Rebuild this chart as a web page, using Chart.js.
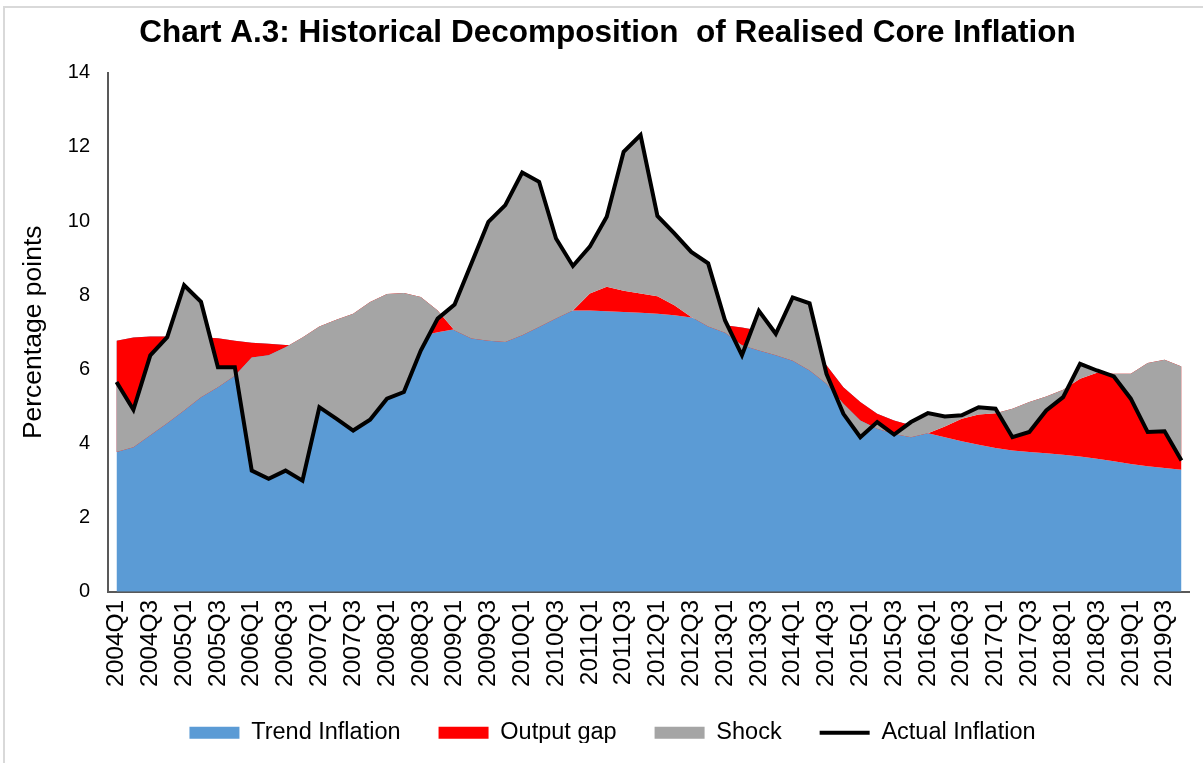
<!DOCTYPE html>
<html>
<head>
<meta charset="utf-8">
<script src="https://cdn.jsdelivr.net/npm/chart.js@4.4.1/dist/chart.umd.min.js"></script>
<style>
  html, body { margin: 0; padding: 0; background: #fff; }
  #frame { position: absolute; left: 3px; top: 6px; width: 1215px; height: 775px; border: 2px solid #d9d9d9; box-sizing: border-box; }
  #wrap { position: absolute; left: 0; top: 0; width: 1203px; height: 763px; }
</style>
</head>
<body>
<div id="frame"></div>
<div id="wrap"><canvas id="chart" width="1203" height="763"></canvas></div>
<script>
// Quarters shown on the x axis
const quarters = [
  '2004Q1','2004Q2','2004Q3','2004Q4','2005Q1','2005Q2','2005Q3','2005Q4',
  '2006Q1','2006Q2','2006Q3','2006Q4','2007Q1','2007Q2','2007Q3','2007Q4',
  '2008Q1','2008Q2','2008Q3','2008Q4','2009Q1','2009Q2','2009Q3','2009Q4',
  '2010Q1','2010Q2','2010Q3','2010Q4','2011Q1','2011Q2','2011Q3','2011Q4',
  '2012Q1','2012Q2','2012Q3','2012Q4','2013Q1','2013Q2','2013Q3','2013Q4',
  '2014Q1','2014Q2','2014Q3','2014Q4','2015Q1','2015Q2','2015Q3','2015Q4',
  '2016Q1','2016Q2','2016Q3','2016Q4','2017Q1','2017Q2','2017Q3','2017Q4',
  '2018Q1','2018Q2','2018Q3','2018Q4','2019Q1','2019Q2','2019Q3','2019Q4'
];

// Trend inflation (percentage points)
const trend = [
  6.77, 6.86, 6.89, 6.89, 6.88, 6.87, 6.84, 6.77, 6.72, 6.69,
  6.66, 6.65, 6.65, 6.66, 6.70, 6.75, 6.80, 6.85, 6.90, 7.00,
  7.08, 7.12, 7.17, 7.22, 7.30, 7.40, 7.50, 7.59, 7.59, 7.57,
  7.55, 7.53, 7.50, 7.46, 7.40, 7.26, 7.19, 7.13, 7.05, 6.92,
  6.75, 6.50, 6.11, 5.52, 5.12, 4.80, 4.62, 4.49, 4.28, 4.17,
  4.06, 3.97, 3.88, 3.81, 3.77, 3.74, 3.70, 3.65, 3.59, 3.52,
  3.45, 3.39, 3.34, 3.29
];

// Output gap contribution
const outputGap = [
  -3.00, -2.96, -2.67, -2.34, -1.99, -1.62, -1.32, -0.94, -0.40, -0.31,
  -0.06, 0.21, 0.51, 0.68, 0.80, 1.07, 1.23, 1.21, 1.05, 0.59,
  -0.03, -0.29, -0.40, -0.48, -0.38, -0.26, -0.13, 0.00, 0.46, 0.66,
  0.57, 0.52, 0.47, 0.27, 0.01, -0.10, -0.20, -0.48, -0.54, -0.54,
  -0.52, -0.53, -0.50, -0.45, -0.50, -0.40, -0.36, -0.32, 0.00, 0.29,
  0.61, 0.81, 0.94, 1.13, 1.35, 1.53, 1.75, 2.10, 2.32, 2.36,
  2.43, 2.78, 2.92, 2.79
];

// Actual core inflation; the shock is what is left after trend and output gap
const actual = [
  5.66, 4.91, 6.38, 6.87, 8.27, 7.82, 6.06, 6.06, 3.27, 3.05,
  3.27, 3.00, 4.98, 4.67, 4.35, 4.64, 5.21, 5.39, 6.51, 7.37,
  7.75, 8.86, 9.98, 10.43, 11.31, 11.06, 9.53, 8.79, 9.31, 10.12,
  11.87, 12.32, 10.14, 9.67, 9.17, 8.86, 7.32, 6.38, 7.58, 6.96,
  7.94, 7.78, 5.88, 4.80, 4.17, 4.58, 4.24, 4.58, 4.82, 4.73,
  4.76, 4.98, 4.94, 4.17, 4.31, 4.89, 5.25, 6.15, 5.97, 5.81,
  5.21, 4.31, 4.33, 3.54
];

const FONT = "'Liberation Sans', Arial, sans-serif";

// Stacked boundaries, the way Excel stacks an area chart with negative values
const gapTop = trend.map((t, i) => +(t + outputGap[i]).toFixed(2));
const shockTop = actual.slice();

const datasets = [
  {
    label: 'Trend Inflation',
    data: trend,
    fill: 'origin',
    backgroundColor: '#5B9BD5',
    borderColor: 'transparent',
    borderWidth: 0,
    order: 3,
    legendLine: false
  },
  {
    label: 'Output gap',
    data: gapTop,
    fill: '-1',
    backgroundColor: '#FF0000',
    borderColor: 'transparent',
    borderWidth: 0,
    order: 2,
    legendLine: false
  },
  {
    label: 'Shock',
    data: shockTop,
    fill: '-1',
    backgroundColor: '#A5A5A5',
    borderColor: 'transparent',
    borderWidth: 0,
    order: 1,
    legendLine: false
  },
  {
    label: 'Actual Inflation',
    data: actual,
    fill: false,
    backgroundColor: '#000000',
    borderColor: '#000000',
    borderWidth: 4,
    order: 0,
    legendLine: true
  }
];

// pull the legend row a bit closer to the axis labels
const legendLift = {
  id: 'legendLift',
  afterLayout(chart) {
    chart.legend.top -= 12;
    chart.legend.bottom -= 12;
    chart.legend.left += 5;
    chart.legend.right += 5;
  }
};

new Chart(document.getElementById('chart'), {
  type: 'line',
  data: { labels: quarters, datasets: datasets },
  plugins: [legendLift],
  options: {
    responsive: false,
    animation: false,
    events: [],
    elements: {
      point: { radius: 0, hoverRadius: 0 },
      line: { tension: 0, borderJoinStyle: 'miter' }
    },
    layout: { padding: { left: 18, right: 6, top: 0, bottom: 8 } },
    scales: {
      x: {
        offset: true,
        grid: { display: false, drawTicks: false },
        border: { display: true, color: '#595959', width: 2 },
        ticks: {
          autoSkip: false,
          minRotation: 90,
          maxRotation: 90,
          padding: 8,
          color: '#000',
          font: { family: FONT, size: 24.5, lineHeight: 0.55 },
          callback: function(value, index) {
            return index % 2 === 0 ? quarters[index] : '';
          }
        }
      },
      y: {
        min: 0,
        max: 14,
        grid: { display: false, drawTicks: false },
        border: { display: true, color: '#595959', width: 2 },
        ticks: {
          stepSize: 2,
          padding: 18,
          color: '#000',
          font: { family: FONT, size: 20 }
        },
        title: {
          display: true,
          text: 'Percentage points',
          color: '#000',
          font: { family: FONT, size: 26.5 },
          padding: { top: 0, bottom: 0 }
        }
      }
    },
    plugins: {
      tooltip: { enabled: false },
      title: {
        display: true,
        text: 'Chart A.3: Historical Decomposition  of Realised Core Inflation',
        color: '#000',
        font: { family: FONT, size: 31.5, weight: 'bold' },
        padding: { top: 14, bottom: 21 }
      },
      legend: {
        position: 'bottom',
        maxHeight: 60,
        labels: {
          color: '#000',
          font: { family: FONT, size: 23.5 },
          usePointStyle: true,
          pointStyleWidth: 50,
          boxHeight: 12,
          padding: 38,
          generateLabels: function(chart) {
            return chart.data.datasets.map((ds, i) => ({
              text: ds.label,
              datasetIndex: i,
              fillStyle: ds.backgroundColor,
              strokeStyle: ds.legendLine ? '#000000' : ds.backgroundColor,
              lineWidth: ds.legendLine ? 4 : 0,
              pointStyle: ds.legendLine ? 'line' : 'rect',
              fontColor: '#000',
              hidden: false
            }));
          }
        }
      }
    }
  }
});
</script>
</body>
</html>
